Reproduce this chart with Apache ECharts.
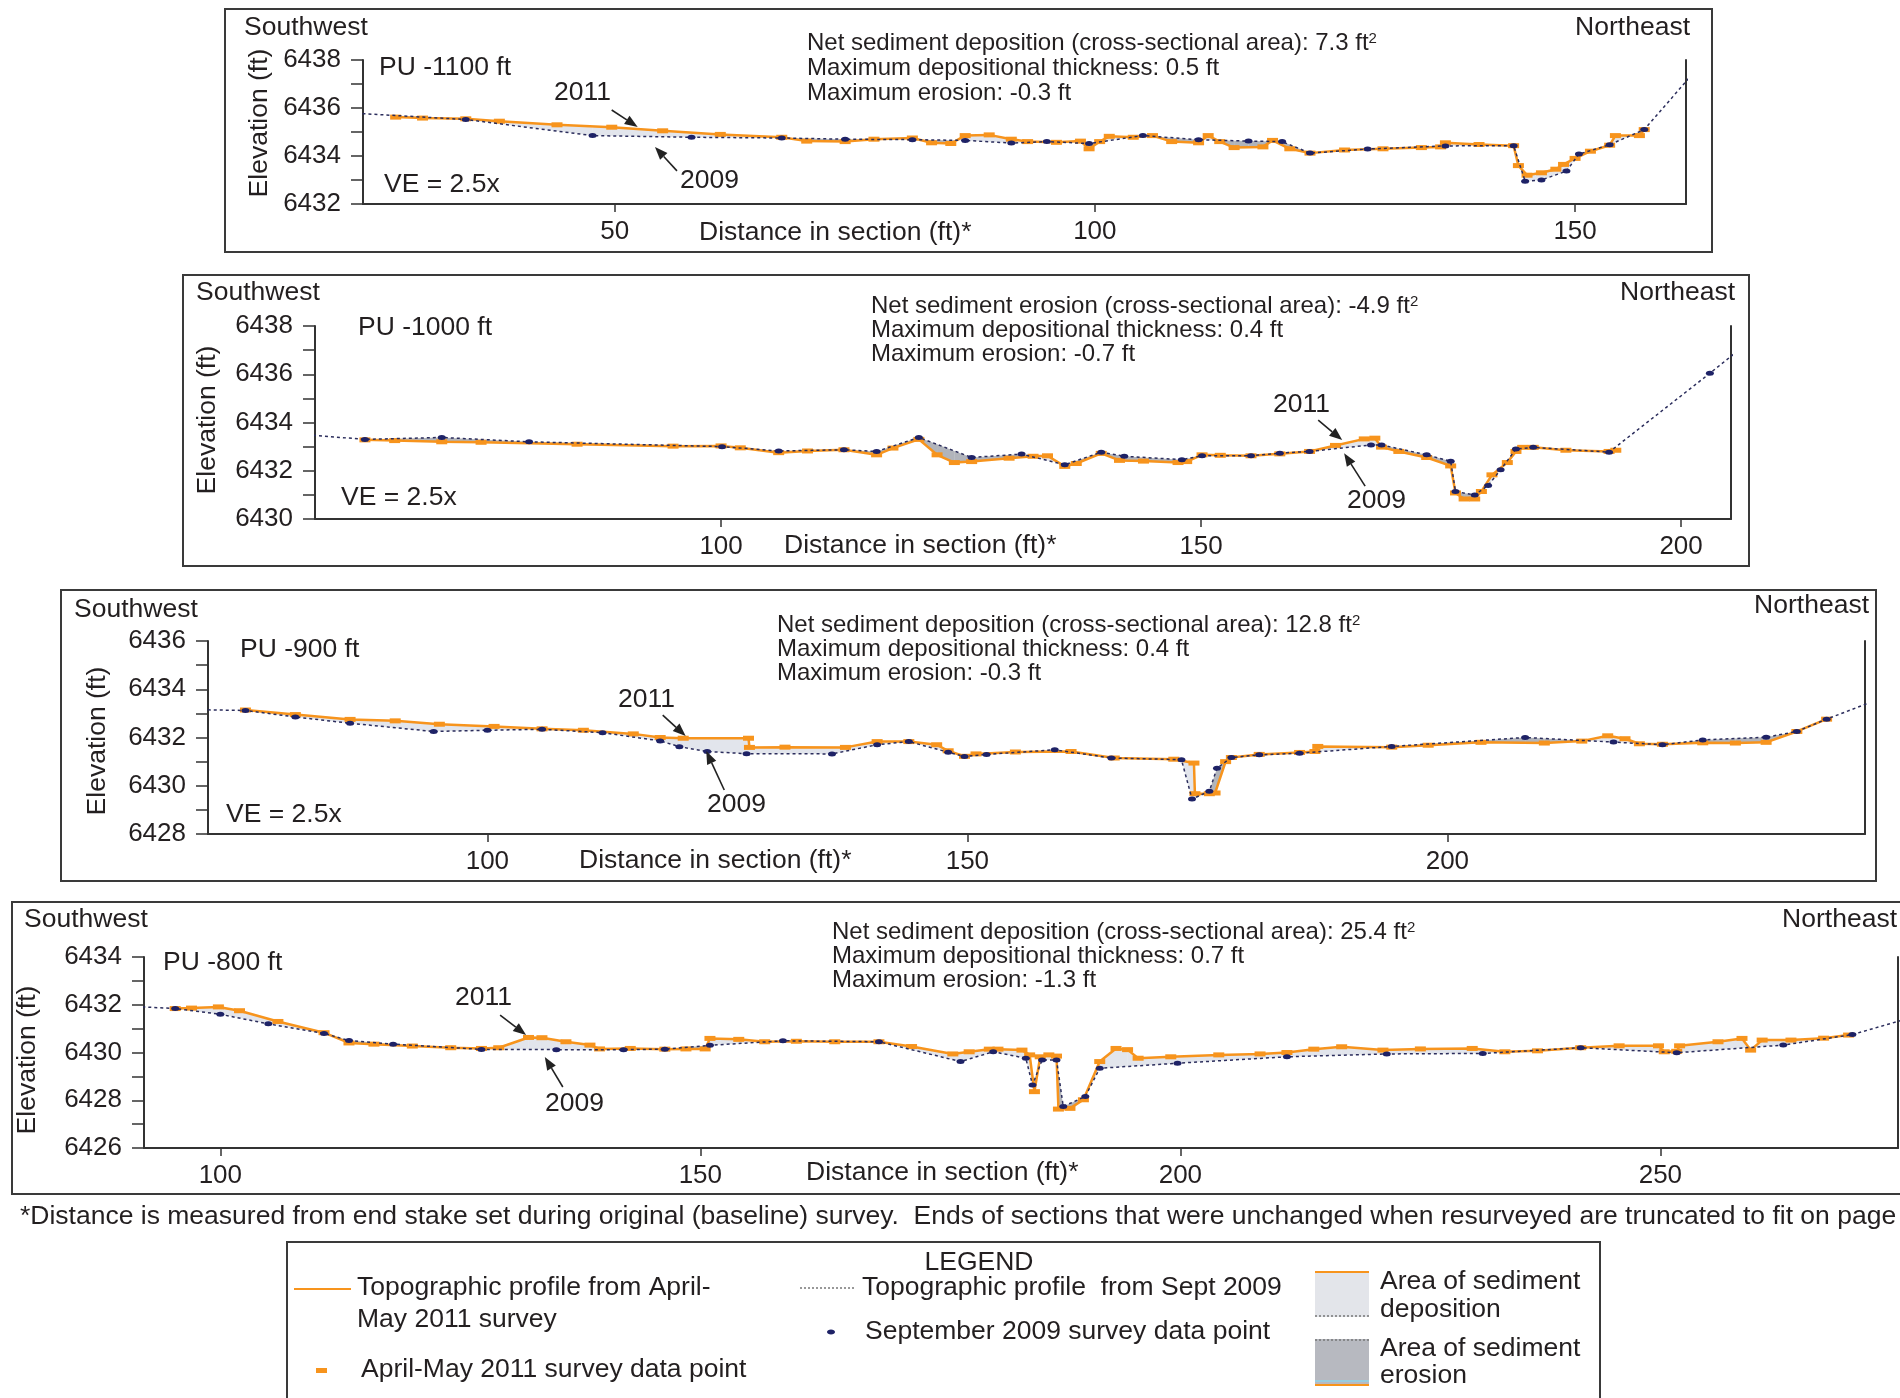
<!DOCTYPE html>
<html>
<head>
<meta charset="utf-8">
<script src="https://cdn.jsdelivr.net/npm/echarts@6/dist/echarts.min.js"></script>
<style>
  html, body { margin: 0; padding: 0; background: #fff; }
  #chart { width: 1900px; height: 1398px; }
</style>
</head>
<body>
<div id="chart"></div>
<script>
// ---- Survey data: [distance in section (ft), elevation (ft)] ----
const pu1100_2009 = [[20,6435.85],[34.5,6435.52],[47.7,6434.85],[58,6434.78],[67.4,6434.75],[74,6434.7],[81,6434.68],[86.5,6434.65],[91.3,6434.54],[95,6434.6],[99.4,6434.52],[105,6434.85],[110.8,6434.68],[116,6434.62],[119.5,6434.6],[122.4,6434.12],[128.4,6434.29],[136.5,6434.42],[143.6,6434.43],[144.8,6432.95],[146.5,6433.0],[149.1,6433.37],[150.4,6434.08],[153.6,6434.47],[157.2,6435.1],[162.5,6437.54]];
const pu1100_2011 = [[27.2,6435.62],[30,6435.58],[34.5,6435.55],[38,6435.45],[44,6435.3],[49.7,6435.2],[55,6435.05],[61,6434.9],[67.4,6434.78],[70,6434.62],[74,6434.6],[77,6434.7],[81,6434.75],[83,6434.55],[85,6434.52],[86.5,6434.85],[89,6434.88],[91.3,6434.7],[93,6434.6],[96,6434.57],[98.5,6434.62],[99.4,6434.3],[100.5,6434.6],[101.5,6434.82],[104,6434.78],[106,6434.85],[108,6434.6],[110.8,6434.55],[111.8,6434.85],[113,6434.6],[114.5,6434.35],[117.5,6434.38],[118.5,6434.65],[120.3,6434.3],[122.4,6434.12],[126,6434.25],[130,6434.3],[134,6434.35],[136,6434.38],[136.5,6434.55],[140,6434.48],[143.6,6434.43],[144.1,6433.6],[145,6433.2],[146.5,6433.3],[148,6433.45],[148.8,6433.65],[150,6433.9],[151.6,6434.2],[153.6,6434.45],[154.2,6434.85],[156.7,6434.85],[157.2,6435.1]];

const pu1000_2009 = [[55,6433.55],[62.9,6433.3],[70.9,6433.38],[80,6433.2],[100.1,6433.0],[106,6432.82],[112.8,6432.87],[116.2,6432.8],[120.6,6433.38],[126.1,6432.55],[131.3,6432.69],[135.8,6432.25],[139.6,6432.77],[142,6432.6],[148,6432.46],[150.1,6432.62],[155.2,6432.62],[158.2,6432.73],[161.3,6432.8],[167.7,6433.07],[168.8,6433.07],[173.5,6432.66],[176,6432.39],[176.5,6431.14],[178.5,6431.0],[179.9,6431.39],[181.2,6432.04],[182.8,6432.9],[184.6,6432.97],[192.5,6432.77],[203,6436.04],[206,6437.0]];
const pu1000_2011 = [[62.9,6433.28],[66,6433.25],[70.9,6433.2],[75,6433.18],[85,6433.1],[95,6433.02],[100,6433.03],[102,6432.95],[106,6432.75],[109,6432.82],[112.8,6432.87],[116.2,6432.66],[117.9,6432.94],[120.6,6433.3],[122.5,6432.66],[124.3,6432.34],[126.1,6432.38],[130,6432.52],[132.5,6432.6],[134,6432.62],[135.8,6432.18],[137,6432.3],[139.6,6432.72],[141.5,6432.43],[144,6432.4],[147.6,6432.34],[148.5,6432.38],[150.1,6432.66],[152,6432.64],[155.2,6432.62],[158.2,6432.7],[161.3,6432.8],[164,6433.05],[167,6433.32],[168.1,6433.35],[168.8,6432.98],[170.6,6432.8],[173.5,6432.55],[176,6432.2],[176.5,6431.08],[177.4,6430.83],[178.5,6430.83],[179.2,6431.14],[180.3,6431.83],[181.9,6432.34],[182.8,6432.8],[183.5,6432.97],[184.6,6432.97],[188,6432.85],[192.5,6432.8],[193.2,6432.85]];

const pu900_2009 = [[69,6433.16],[74.8,6433.12],[80,6432.85],[85.7,6432.59],[94.4,6432.25],[100,6432.3],[105.7,6432.34],[112,6432.2],[118,6431.86],[120,6431.62],[122.9,6431.42],[127,6431.33],[135.9,6431.32],[140.6,6431.7],[143.9,6431.83],[148,6431.39],[149.7,6431.21],[152,6431.3],[159.1,6431.49],[165,6431.15],[172.3,6431.08],[173.4,6429.45],[175.2,6429.77],[176,6430.73],[177.5,6431.17],[180.4,6431.28],[184.6,6431.35],[194.2,6431.63],[208.1,6432.0],[217.3,6431.81],[222.4,6431.7],[226.6,6431.9],[233.2,6432.01],[236.4,6432.25],[239.5,6432.76],[245,6433.6]];
const pu900_2011 = [[74.8,6433.14],[80,6432.95],[85.7,6432.75],[90.4,6432.69],[95,6432.55],[100.7,6432.46],[105.7,6432.36],[110,6432.3],[115.2,6432.15],[118,6432.0],[120.4,6431.97],[127.2,6431.97],[127.3,6431.59],[131,6431.6],[137.3,6431.59],[140.6,6431.83],[143.9,6431.83],[146.8,6431.7],[148,6431.45],[149.7,6431.22],[150.9,6431.32],[155,6431.4],[160.8,6431.42],[165.3,6431.15],[171.5,6431.1],[173.6,6430.94],[173.7,6429.67],[175.2,6429.67],[175.8,6429.7],[176.9,6431.0],[177.5,6431.17],[180.4,6431.3],[184.6,6431.38],[186.2,6431.42],[186.5,6431.63],[194.2,6431.6],[198,6431.68],[203.5,6431.8],[210.1,6431.77],[214,6431.85],[216.7,6432.07],[218.5,6431.95],[220,6431.74],[222.4,6431.72],[226.6,6431.78],[230,6431.77],[233.2,6431.8],[236.4,6432.25],[239.5,6432.76]];

const pu800_2009 = [[90,6431.95],[95.3,6431.84],[100,6431.6],[105,6431.2],[110.8,6430.8],[113.4,6430.5],[118,6430.35],[127.2,6430.13],[135,6430.12],[142,6430.12],[146.3,6430.14],[151,6430.3],[158.6,6430.49],[168.6,6430.45],[177.1,6429.62],[180.5,6430.03],[183.9,6429.76],[184.6,6428.64],[185.6,6429.69],[187.1,6429.69],[187.8,6427.74],[190.1,6428.16],[191.6,6429.34],[199.7,6429.55],[211.1,6429.82],[221.5,6429.94],[231.5,6429.96],[241.7,6430.2],[251.7,6429.99],[262.8,6430.31],[270,6430.75],[276,6431.45]];
const pu800_2011 = [[95.3,6431.84],[97,6431.86],[99.8,6431.91],[102,6431.75],[106,6431.3],[110.8,6430.83],[113.4,6430.4],[116,6430.35],[120,6430.27],[124,6430.2],[127.2,6430.17],[129,6430.2],[132.1,6430.63],[133.5,6430.62],[136,6430.45],[138.5,6430.31],[139.5,6430.15],[142.7,6430.17],[146.3,6430.14],[148.5,6430.15],[150.5,6430.15],[151,6430.59],[154,6430.55],[156.7,6430.45],[160,6430.47],[164,6430.45],[168.6,6430.45],[172,6430.25],[176.3,6429.94],[178,6430.03],[180.1,6430.14],[181,6430.14],[183.5,6430.1],[184.3,6429.9],[184.8,6428.36],[185.4,6429.82],[186.3,6429.9],[187.1,6429.85],[187.3,6427.63],[188.5,6427.66],[189.9,6428.02],[191.6,6429.62],[193.3,6430.17],[194.5,6430.12],[195.6,6429.76],[199,6429.82],[204,6429.9],[208.3,6429.94],[211.1,6430.0],[213.9,6430.14],[216.8,6430.24],[221.1,6430.1],[225,6430.15],[230.4,6430.17],[233.8,6430.03],[237.2,6430.07],[241.7,6430.2],[245.7,6430.28],[249.8,6430.28],[250.4,6430.03],[251.7,6430.05],[252,6430.28],[256,6430.45],[258.5,6430.59],[259.4,6430.1],[260.6,6430.52],[263.6,6430.52],[267,6430.6],[269.6,6430.73]];

const sectionNames = ['PU -1100 ft', 'PU -1000 ft', 'PU -900 ft', 'PU -800 ft'];
const profiles2009 = [pu1100_2009, pu1000_2009, pu900_2009, pu800_2009];
const profiles2011 = [pu1100_2011, pu1000_2011, pu900_2011, pu800_2011];
const netChange = [
  ['Net sediment deposition (cross-sectional area): 7.3 ft', 'Maximum depositional thickness: 0.5 ft', 'Maximum erosion: -0.3 ft'],
  ['Net sediment erosion (cross-sectional area): -4.9 ft', 'Maximum depositional thickness: 0.4 ft', 'Maximum erosion: -0.7 ft'],
  ['Net sediment deposition (cross-sectional area): 12.8 ft', 'Maximum depositional thickness: 0.4 ft', 'Maximum erosion: -0.3 ft'],
  ['Net sediment deposition (cross-sectional area): 25.4 ft', 'Maximum depositional thickness: 0.7 ft', 'Maximum erosion: -1.3 ft']
];
const distanceTicks = [[50, 100, 150], [100, 150, 200], [100, 150, 200], [100, 150, 200, 250]];
const distanceRanges = [[23.8, 161.55], [57.7, 205.2], [70.9, 243.5], [92.05, 274.75]];
const elevationRanges = [[6432, 6438], [6430, 6438], [6428, 6436], [6426, 6434]];
// arrow tips for the "2011" / "2009" callouts, in section coordinates
const callout2011 = [[52.4, 6435.21], [164.7, 6433.27], [120.66, 6432.06], [131.85, 6430.73]];
const callout2009 = [[54.2, 6434.38], [164.9, 6432.73], [122.8, 6431.44], [133.8, 6429.81]];

// ---- Page layout (pixels) ----
const FONT = '"Liberation Sans", Arial, Helvetica, sans-serif';
const INK = '#231f20';
const ORANGE = '#F7941D';
const NAVY = '#1e2266';
const DEP_FILL = 'rgba(198,204,217,0.5)';
const ERO_FILL = 'rgba(125,130,142,0.6)';
const TXT = 26.5;

const layout = [
  { grid: { left: 363, top: 60, width: 1323, height: 144 }, box: [225, 9, 1487, 243], sw: [244, 28], ne: [1690, 28], pu: [379, 68], ve: [384, 185], elev: [260, 123], dist: [699, 233], note: [807, 43, 25], l11: [554, 93], l09: [680, 181], a11: [-26, -17], a09: [22, 24] },
  { grid: { left: 315, top: 326, width: 1416, height: 193 }, box: [183, 275, 1566, 291], sw: [196, 293], ne: [1735, 293], pu: [358, 328], ve: [341, 498], elev: [208, 420], dist: [784, 546], note: [871, 306, 24], l11: [1273, 405], l09: [1347, 501], a11: [-24, -20], a09: [21, 33] },
  { grid: { left: 208, top: 641, width: 1657, height: 193 }, box: [61, 590, 1815, 291], sw: [74, 610], ne: [1869, 606], pu: [240, 650], ve: [226, 815], elev: [98, 741], dist: [579, 861], note: [777, 625, 24], l11: [618, 700], l09: [707, 805], a11: [-23, -21], a09: [18, 39] },
  { grid: { left: 144, top: 957, width: 1754, height: 191 }, box: [12, 902, 1900, 292], sw: [24, 920], ne: [1897, 920], pu: [163, 963], ve: null, elev: [28, 1060], dist: [806, 1173], note: [832, 932, 24], l11: [455, 998], l09: [545, 1104], a11: [-26, -20], a09: [18, 30] }
];

// linear interpolation along a profile
function interp(pts, x) {
  for (let i = 0; i < pts.length - 1; i++) {
    const [x0, y0] = pts[i], [x1, y1] = pts[i + 1];
    if (x >= x0 && x <= x1) return x1 === x0 ? y0 : y0 + (y1 - y0) * (x - x0) / (x1 - x0);
  }
  return x < pts[0][0] ? pts[0][1] : pts[pts.length - 1][1];
}

// polygons between the two surveys, flagged as deposition or erosion
function changePolygons(a, b) {
  const lo = Math.max(a[0][0], b[0][0]);
  const hi = Math.min(a[a.length - 1][0], b[b.length - 1][0]);
  const xs = Array.from(new Set(a.concat(b).map(p => p[0]).filter(x => x >= lo && x <= hi).concat([lo, hi]))).sort((m, n) => m - n);
  const out = [];
  for (let i = 0; i < xs.length - 1; i++) {
    const x0 = xs[i], x1 = xs[i + 1];
    const a0 = interp(a, x0), a1 = interp(a, x1), b0 = interp(b, x0), b1 = interp(b, x1);
    const d0 = a0 - b0, d1 = a1 - b1;
    if (d0 * d1 < 0) {
      const t = d0 / (d0 - d1), xc = x0 + t * (x1 - x0), yc = a0 + t * (a1 - a0);
      out.push({ dep: d0 > 0, pts: [[x0, a0], [xc, yc], [x0, b0]] });
      out.push({ dep: d1 > 0, pts: [[xc, yc], [x1, a1], [x1, b1]] });
    } else if (d0 !== 0 || d1 !== 0) {
      out.push({ dep: d0 + d1 > 0, pts: [[x0, a0], [x1, a1], [x1, b1], [x0, b0]] });
    }
  }
  return out;
}

function range(a, b, step) { const r = []; for (let v = a; v <= b; v += step) r.push(v); return r; }

const grids = [], xAxes = [], yAxes = [], series = [];
const axisLine = { show: true, onZero: false, lineStyle: { color: '#333', width: 2 } };
const labelStyle = { color: INK, fontSize: 26, fontFamily: FONT, formatter: v => String(v) };

layout.forEach((L, i) => {
  grids.push(Object.assign({ containLabel: false }, L.grid));
  const [ymin, ymax] = elevationRanges[i];
  xAxes.push({
    gridIndex: i, type: 'value', min: distanceRanges[i][0], max: distanceRanges[i][1],
    axisLine, splitLine: { show: false },
    axisTick: { show: true, customValues: distanceTicks[i], length: 8, lineStyle: { color: '#333', width: 1.5 } },
    axisLabel: Object.assign({ customValues: distanceTicks[i], margin: 15 }, labelStyle)
  });
  yAxes.push({
    gridIndex: i, type: 'value', position: 'left', min: ymin, max: ymax,
    axisLine, splitLine: { show: false },
    axisTick: { show: true, customValues: range(ymin, ymax, 1), length: 12, lineStyle: { color: '#333', width: 1.5 } },
    axisLabel: Object.assign({ customValues: range(ymin, ymax, 2), margin: 22 }, labelStyle)
  });
  yAxes.push({
    gridIndex: i, type: 'value', position: 'right', min: ymin, max: ymax,
    axisLine, axisTick: { show: false }, axisLabel: { show: false }, splitLine: { show: false }
  });

  const polys = changePolygons(profiles2011[i], profiles2009[i]);
  series.push({
    type: 'custom', coordinateSystem: 'cartesian2d', xAxisIndex: i, yAxisIndex: 2 * i,
    clip: true, silent: true, z: 1,
    data: polys.map(p => [p.pts[0][0], p.pts[0][1]]),
    encode: { x: 0, y: 1 },
    renderItem: (params, api) => {
      const p = polys[params.dataIndex];
      return { type: 'polygon', shape: { points: p.pts.map(q => api.coord(q)) }, style: { fill: p.dep ? DEP_FILL : ERO_FILL } };
    }
  });
  series.push({
    name: 'April-May 2011', type: 'line', xAxisIndex: i, yAxisIndex: 2 * i, z: 2,
    data: profiles2011[i], clip: true, showAllSymbol: true,
    symbol: 'rect', symbolSize: [11, 5],
    itemStyle: { color: ORANGE }, lineStyle: { color: ORANGE, width: 2.5 }
  });
  series.push({
    name: 'Sept 2009', type: 'line', xAxisIndex: i, yAxisIndex: 2 * i, z: 3,
    data: profiles2009[i], clip: true, showAllSymbol: true,
    symbol: 'circle', symbolSize: [8, 5],
    itemStyle: { color: NAVY }, lineStyle: { color: '#2b2d5c', width: 1.5, type: [3, 3] }
  });
});

const chart = echarts.init(document.getElementById('chart'), null, { renderer: 'canvas' });
chart.setOption({
  animation: false,
  backgroundColor: '#ffffff',
  grid: grids, xAxis: xAxes, yAxis: yAxes, series
});

// ---- Text, frames, callouts and legend ----
function text(x, y, str, opt) {
  opt = opt || {};
  const align = opt.align || 'left';
  const el = {
    type: 'text', x, y, z: 10, rotation: opt.rotation || 0,
    style: {
      text: str, fill: INK, fontSize: opt.size || TXT, fontFamily: FONT,
      align, textAlign: align, verticalAlign: 'middle', textVerticalAlign: 'middle'
    }
  };
  if (opt.rich) el.style.rich = opt.rich;
  return el;
}
function rect(x, y, w, h, style) { return { type: 'rect', z: 5, shape: { x, y, width: w, height: h }, style }; }
function seg(x1, y1, x2, y2, style) { return { type: 'line', z: 6, shape: { x1, y1, x2, y2 }, style }; }
function arrow(from, to) {
  const dx = to[0] - from[0], dy = to[1] - from[1], len = Math.hypot(dx, dy);
  const ux = dx / len, uy = dy / len, hl = 13, hw = 5;
  const bx = to[0] - ux * hl, by = to[1] - uy * hl;
  return [
    seg(from[0], from[1], bx, by, { stroke: '#222', lineWidth: 1.6 }),
    { type: 'polygon', z: 6, shape: { points: [to, [bx - uy * hw, by + ux * hw], [bx + uy * hw, by - ux * hw]] }, style: { fill: '#222' } }
  ];
}
const supRich = { s: { fontSize: 15, fontFamily: FONT, fill: INK, verticalAlign: 'top' } };

const g = [];
layout.forEach((L, i) => {
  g.push(rect(L.box[0], L.box[1], L.box[2], L.box[3], { fill: null, stroke: '#3a3a3a', lineWidth: 2 }));
  g.push(text(L.sw[0], L.sw[1], 'Southwest'));
  g.push(text(L.ne[0], L.ne[1], 'Northeast', { align: 'right' }));
  g.push(text(L.pu[0], L.pu[1], sectionNames[i]));
  if (L.ve) g.push(text(L.ve[0], L.ve[1], 'VE = 2.5x'));
  g.push(text(L.elev[0], L.elev[1], 'Elevation (ft)', { align: 'center', rotation: Math.PI / 2 }));
  g.push(text(L.dist[0], L.dist[1], 'Distance in section (ft)*'));
  netChange[i].forEach((line, k) => {
    const y = L.note[1] + k * L.note[2];
    if (k === 0) g.push(text(L.note[0], y, line + '{s|2}', { size: 24, rich: supRich }));
    else g.push(text(L.note[0], y, line, { size: 24 }));
  });
  g.push(text(L.l11[0], L.l11[1], '2011'));
  g.push(text(L.l09[0], L.l09[1], '2009'));
  const t11 = chart.convertToPixel({ gridIndex: i }, callout2011[i]);
  const t09 = chart.convertToPixel({ gridIndex: i }, callout2009[i]);
  g.push(...arrow([t11[0] + L.a11[0], t11[1] + L.a11[1]], t11));
  g.push(...arrow([t09[0] + L.a09[0], t09[1] + L.a09[1]], t09));
});

g.push(text(20, 1217, '*Distance is measured from end stake set during original (baseline) survey.  Ends of sections that were unchanged when resurveyed are truncated to fit on page', { size: 26.5 }));

// legend frame and entries
g.push(rect(287, 1242, 1313, 200, { fill: null, stroke: '#3a3a3a', lineWidth: 2 }));
g.push(text(979, 1263, 'LEGEND', { align: 'center' }));
g.push(seg(294, 1289, 351, 1289, { stroke: ORANGE, lineWidth: 2 }));
g.push(text(357, 1288, 'Topographic profile from April-'));
g.push(text(357, 1320, 'May 2011 survey'));
g.push(rect(316, 1368, 11, 5, { fill: ORANGE }));
g.push(text(361, 1370, 'April-May 2011 survey data point'));
g.push(seg(800, 1288, 854, 1288, { stroke: '#777', lineWidth: 1.5, lineDash: [2, 2] }));
g.push(text(862, 1288, 'Topographic profile  from Sept 2009'));
g.push({ type: 'ellipse', z: 6, shape: { cx: 831, cy: 1332, rx: 4, ry: 2.5 }, style: { fill: NAVY } });
g.push(text(865, 1332, 'September 2009 survey data point'));
g.push(rect(1315, 1271, 54, 46, { fill: '#e3e5ea' }));
g.push(seg(1315, 1272, 1369, 1272, { stroke: ORANGE, lineWidth: 2 }));
g.push(seg(1315, 1316, 1369, 1316, { stroke: '#777', lineWidth: 1.5, lineDash: [2, 2] }));
g.push(text(1380, 1282, 'Area of sediment'));
g.push(text(1380, 1310, 'deposition'));
g.push(rect(1315, 1339, 54, 46, { fill: '#b7b9c0' }));
g.push(seg(1315, 1340, 1369, 1340, { stroke: '#777', lineWidth: 1.5, lineDash: [2, 2] }));
g.push(seg(1315, 1381, 1369, 1381, { stroke: '#8fd3e8', lineWidth: 1.5 }));
g.push(seg(1315, 1385, 1369, 1385, { stroke: ORANGE, lineWidth: 2 }));
g.push(text(1380, 1349, 'Area of sediment'));
g.push(text(1380, 1376, 'erosion'));

chart.setOption({ graphic: { elements: g } });
</script>
</body>
</html>
